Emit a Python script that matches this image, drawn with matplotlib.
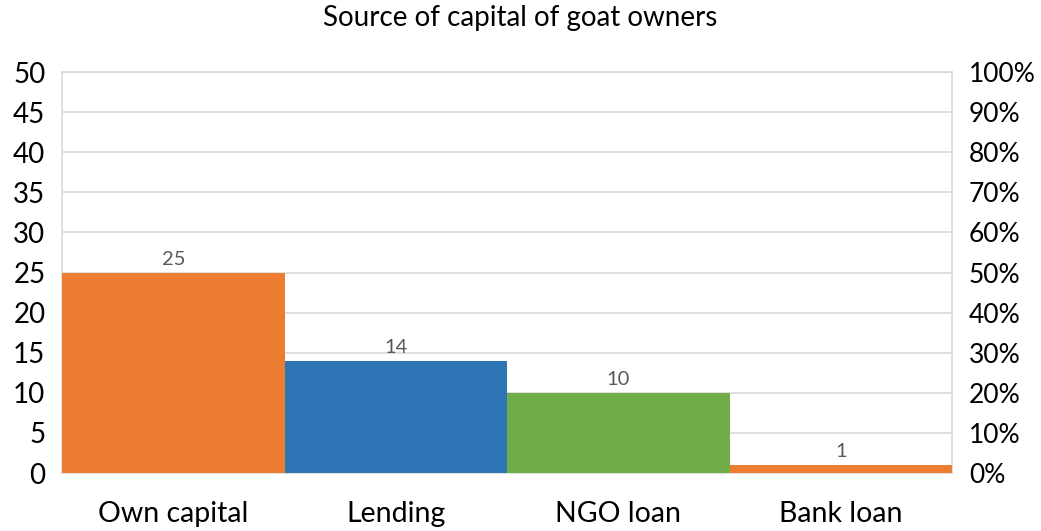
import matplotlib.pyplot as plt
from matplotlib.ticker import PercentFormatter

plt.rcParams['font.family'] = ['Lato', 'DejaVu Sans']

categories = ['Own capital', 'Lending', 'NGO loan', 'Bank loan']
values = [25, 14, 10, 1]
colors = ['#ED7D31', '#2E75B6', '#70AD47', '#ED7D31']
left_ticks = list(range(0, 51, 5))
right_ticks = [i / 10 for i in range(11)]

fig = plt.figure(figsize=(10.41, 5.31), dpi=100)
ax = fig.add_axes([0.0596, 0.1092, 0.855, 0.7552])

x = range(len(categories))
bars = ax.bar(x, values, width=1.0, color=colors, zorder=3)
for b, v in zip(bars, values):
    ax.text(b.get_x() + b.get_width() / 2, v + 0.6, str(v), ha='center', va='bottom',
            fontsize=14.5, color='#595959', zorder=4)

ax.set_xlim(-0.5, 3.5)
ax.set_ylim(0, 50)
ax.set_yticks(left_ticks)
ax.set_xticks(list(x))
ax.set_xticklabels(categories, fontsize=20.5)
ax.tick_params(axis='y', labelsize=20, length=0, pad=12)
ax.tick_params(axis='x', length=0, pad=20)
ax.grid(axis='y', color='#D9D9D9', linewidth=1.2, zorder=0)
for s in ax.spines.values():
    s.set_color('#D9D9D9')
    s.set_linewidth(1.2)

ax2 = ax.twinx()
ax2.set_ylim(0, 1)
ax2.set_yticks(right_ticks)
ax2.yaxis.set_major_formatter(PercentFormatter(1.0, decimals=0))
ax2.tick_params(axis='y', labelsize=19, length=0, pad=12)
for s in ax2.spines.values():
    s.set_visible(False)

fig.suptitle('Source of capital of goat owners', fontsize=20, y=0.99)

fig.savefig('out.png', dpi=100)
